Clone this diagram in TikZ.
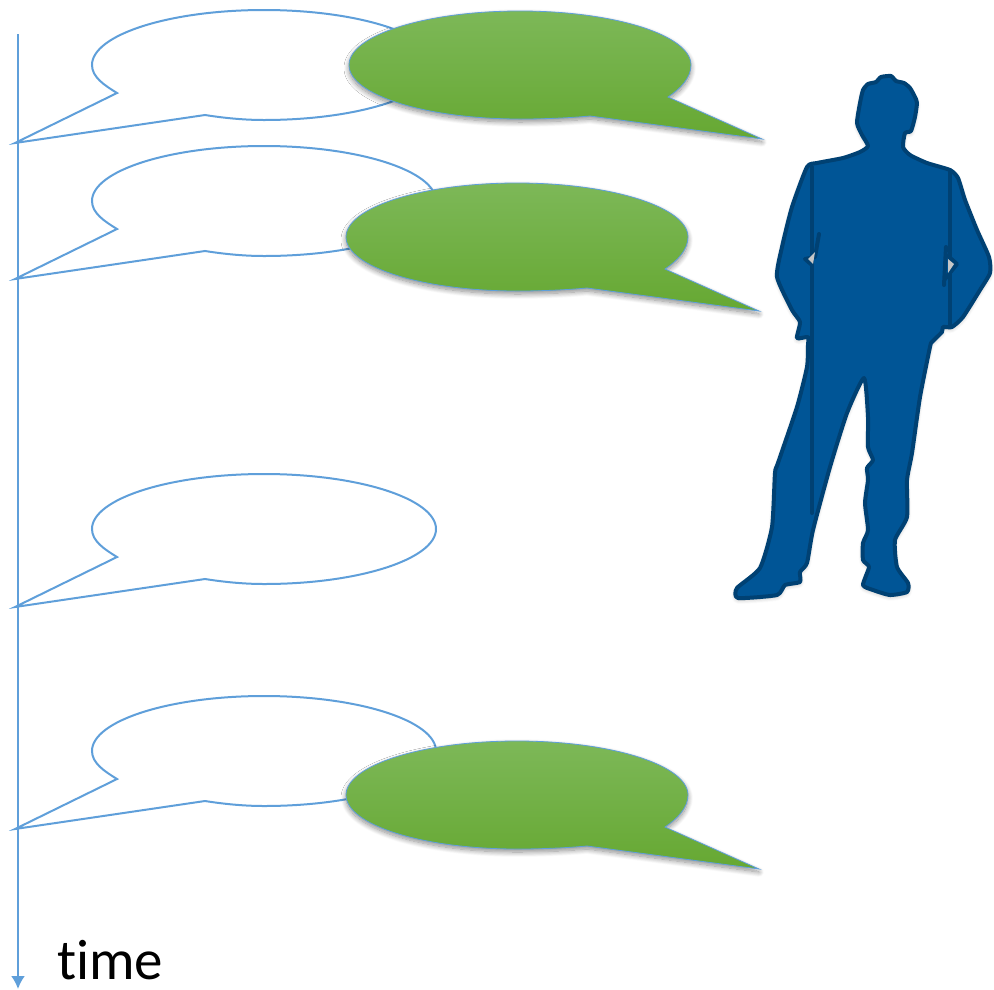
\documentclass[tikz,border=0pt]{standalone}
\usepackage{fontspec}
\setmainfont[Ligatures=NoCommon]{Carlito}
\usepackage{xcolor}
\usetikzlibrary{arrows.meta,shadows.blur}

\definecolor{callblue}{HTML}{5F9FDA}
\definecolor{personfill}{HTML}{005596}
\definecolor{personline}{HTML}{004173}
\definecolor{answertop}{HTML}{7DB858}
\definecolor{answerbottom}{HTML}{66A832}

\begin{document}
\begin{tikzpicture}[
  x=1pt,
  y=-1pt,
  >={Latex[length=13pt,width=14pt]},
  timeline/.style={->,draw=callblue,line width=2pt},
  timelabel/.style={font=\fontsize{57}{57}\selectfont,anchor=base west,inner sep=0pt},
  asked/.style={draw=callblue,line width=2pt,fill=white},
  answer/.style={draw=callblue,line width=.8pt,top color=answertop,bottom color=answerbottom,
    blur shadow={shadow blur steps=10,shadow xshift=0pt,shadow yshift=-3pt,
    shadow blur radius=5pt,shadow opacity=45}},
  person/.style={draw=personline,fill=personfill,line width=4pt,line join=round},
  personedge/.style={draw=personline,line width=4pt,line cap=round,line join=round},
  gap/.style={fill=black!22},
  askedcall/.pic={
    \path[asked] (-172,0) .. controls (-172,12) and (-160,20) .. (-147,28) -- (-249,78)
      -- (-59,50) .. controls (-40,53) and (-20,55) .. (0,55)
      .. controls (95,55) and (172,30) .. (172,0)
      .. controls (172,-30) and (95,-55) .. (0,-55)
      .. controls (-95,-55) and (-172,-30) .. (-172,0) -- cycle;
  },
  answercall/.pic={
    \path[answer] (171,0) .. controls (171,13) and (160,24) .. (148,32) -- (242,74)
      -- (70,51) .. controls (48,53) and (24,54) .. (0,54)
      .. controls (-94,54) and (-171,30) .. (-171,0)
      .. controls (-171,-30) and (-94,-54) .. (0,-54)
      .. controls (94,-54) and (171,-30) .. (171,0) -- cycle;
  }
]

\useasboundingbox (0,0) rectangle (994,989);

\coordinate (timestart) at (18,34);
\coordinate (timeend) at (18,989);
\node[timelabel] (timetext) at (57,979) {time};

% questions
\pic at (264,65) {askedcall};
\pic at (264,201) {askedcall};
\pic at (264,529) {askedcall};
\pic at (264,751) {askedcall};

% answers
\pic at (520,65) {answercall};
\pic at (517,237) {answercall};
\pic at (517,795) {answercall};

\draw[timeline] (timestart) -- (timeend);

% person
\path[person,blur shadow={shadow blur steps=8,shadow xshift=0pt,shadow yshift=-2pt,
    shadow blur radius=4pt,shadow opacity=25}]
  plot[smooth cycle,tension=.35] coordinates {
  (868,146) (862,135) (857,123) (860,103) (863,90) (868,84) (876,82) (881,77) (891,76)
  (896,81) (904,83) (910,88) (915,97) (917,103) (915,117) (911,131) (905,133) (903,147) (910,155)
  (927,163) (950,170) (958,178) (965,200) (977,230) (989,257) (990,273) (980,290)
  (963,317) (952,327) (943,327) (942,332) (932,342) (930,347) (920,397) (912,453)
  (907,480) (907,517) (895,540) (897,567) (908,583) (907,592) (890,595) (873,590)
  (863,585) (869,567) (863,560) (863,543) (868,530) (865,503) (868,480) (867,468)
  (873,460) (868,447) (868,417) (864,378) (847,413) (830,467) (813,530) (807,563)
  (800,572) (800,582) (785,585) (777,595) (738,598) (737,588) (760,568) (772,527)
  (775,473) (778,463) (797,407) (807,367) (808,345) (808,337) (797,338) (800,322)
  (792,310) (777,277) (782,247) (792,207) (807,167) (817,163) (843,158) (860,152)};

\draw[personedge] (812,167) -- (812,513);
\draw[personedge] (950,170) -- (950,327);
\draw[personedge] (819,234) -- (815,257) -- (805,259) -- (812,265);
\draw[personedge] (946,247) -- (944,285);
\draw[personedge] (945,279) -- (957,264) -- (948,256);

\fill[gap] (815,252) -- (808,259) -- (813,264) -- cycle;
\fill[gap] (948,259) -- (954,264) -- (948,273) -- cycle;

\end{tikzpicture}
\end{document}
